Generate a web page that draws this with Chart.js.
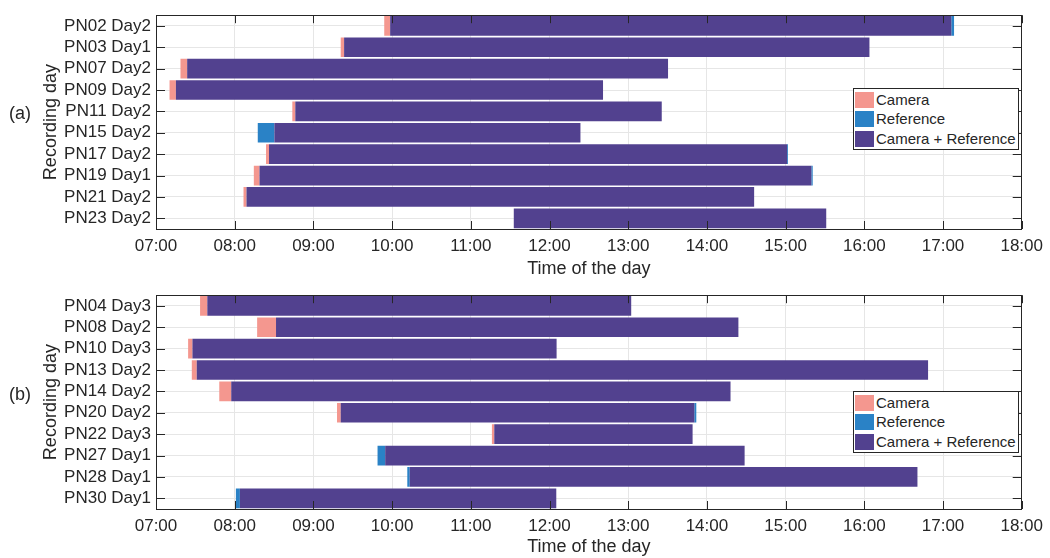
<!DOCTYPE html>
<html>
<head>
<meta charset="utf-8">
<script src="https://cdn.jsdelivr.net/npm/chart.js@4"></script>
<style>
  body { margin: 0; background: #fff; width: 1050px; height: 558px; position: relative; overflow: hidden;
         font-family: "Liberation Sans", Arial, sans-serif; color: #262626; }
  .panel { position: absolute; left: 0; width: 1050px; }
  .tag { position: absolute; left: 9px; font-size: 18px; }
  .legend { position: absolute; left: 853px; width: 164px; height: 60px; border: 1px solid #262626; background: #fff; font-size: 15px; }
  .legend div { position: absolute; left: 1px; height: 16px; line-height: 16px; white-space: nowrap; }
  .legend span { display: inline-block; width: 19px; height: 16px; vertical-align: top; margin-right: 2px; }
</style>
</head>
<body>
<div class="panel" style="top:0;height:280px"><canvas id="chartA"></canvas></div>
<div class="panel" style="top:280px;height:278px"><canvas id="chartB"></canvas></div>
<div class="tag" style="top:103px">(a)</div>
<div class="tag" style="top:384px">(b)</div>
<div class="legend" style="top:88px">
  <div style="top:3px"><span style="background:#F4978F"></span>Camera</div>
  <div style="top:22px"><span style="background:#2A82C6"></span>Reference</div>
  <div style="top:42px"><span style="background:#52418F"></span>Camera + Reference</div>
</div>
<div class="legend" style="top:391px">
  <div style="top:3px"><span style="background:#F4978F"></span>Camera</div>
  <div style="top:22px"><span style="background:#2A82C6"></span>Reference</div>
  <div style="top:42px"><span style="background:#52418F"></span>Camera + Reference</div>
</div>
<script>
// times are hours of the day (decimal)
const rowsA = ['PN02 Day2', 'PN03 Day1', 'PN07 Day2', 'PN09 Day2', 'PN11 Day2', 'PN15 Day2', 'PN17 Day2', 'PN19 Day1', 'PN21 Day2', 'PN23 Day2'];
const cameraA = [[9.90, 9.975], [9.347, 9.39], [7.311, 7.396], [7.172, 7.253], [8.732, 8.77], null, [8.398, 8.436], [8.243, 8.315], [8.112, 8.15], null];
const refStartA = [null, null, null, null, null, [8.293, 8.504], null, null, null, null];
const bothA = [[9.975, 17.105], [9.39, 16.065], [7.396, 13.506], [7.253, 12.68], [8.77, 13.426], [8.504, 12.393], [8.436, 15.019], [8.315, 15.327], [8.15, 14.60], [11.546, 15.516]];
const refEndA = [[17.105, 17.14], null, null, null, null, null, [15.019, 15.03], [15.327, 15.344], null, null];

const rowsB = ['PN04 Day3', 'PN08 Day2', 'PN10 Day3', 'PN13 Day2', 'PN14 Day2', 'PN20 Day2', 'PN22 Day3', 'PN27 Day1', 'PN28 Day1', 'PN30 Day1'];
const cameraB = [[7.56, 7.652], [8.285, 8.525], [7.408, 7.463], [7.455, 7.518], [7.804, 7.956], [9.30, 9.347], [11.268, 11.298], null, null, null];
const refStartB = [null, null, null, null, null, null, null, [9.815, 9.912], [10.193, 10.224], [8.015, 8.066]];
const bothB = [[7.652, 13.038], [8.525, 14.40], [7.463, 12.09], [7.518, 16.81], [7.956, 14.30], [9.347, 13.84], [11.298, 13.818], [9.912, 14.479], [10.224, 16.675], [8.066, 12.086]];
const refEndB = [null, null, null, null, null, [13.84, 13.865], null, null, null, null];

const hourTicks = [7, 8, 9, 10, 11, 12, 13, 14, 15, 16, 17, 18];

const camColor = '#F4978F';
const refColor = '#2A82C6';
const bothColor = '#52418F';
const textColor = '#262626';

// MATLAB style: ticks pointing inwards on all four sides, plus a box
const insideTicks = {
  id: 'insideTicks',
  afterDatasetsDraw(chart) {
    const ctx = chart.ctx;
    const a = chart.chartArea;
    const x = chart.scales.x, y = chart.scales.y;
    ctx.save();
    ctx.strokeStyle = textColor;
    ctx.lineWidth = 1;
    ctx.beginPath();
    x.ticks.forEach(t => {
      const px = Math.round(x.getPixelForValue(t.value)) + 0.5;
      ctx.moveTo(px, a.bottom); ctx.lineTo(px, a.bottom - 8);
      ctx.moveTo(px, a.top); ctx.lineTo(px, a.top + 8);
    });
    y.ticks.forEach((t, i) => {
      const py = Math.round(y.getPixelForTick(i)) + 0.5;
      ctx.moveTo(a.left, py); ctx.lineTo(a.left + 9, py);
      ctx.moveTo(a.right, py); ctx.lineTo(a.right - 9, py);
    });
    ctx.stroke();
    ctx.strokeRect(Math.round(a.left) + 0.5, Math.round(a.top) + 0.5, Math.round(a.width) - 1, Math.round(a.height));
    ctx.restore();
  }
};

function fmtHour(v) {
  return (v < 10 ? '0' : '') + v + ':00';
}

function makeChart(id, rows, cam, refStart, both, refEnd, axisH) {
  const bar = (label, data, color) => ({
    label: label,
    data: data,
    backgroundColor: color,
    borderWidth: 0,
    grouped: false,
    barPercentage: 0.92,
    categoryPercentage: 1
  });
  return new Chart(document.getElementById(id), {
    type: 'bar',
    data: {
      labels: rows,
      datasets: [
        bar('Camera + Reference', both, bothColor),
        bar('Camera', cam, camColor),
        bar('Reference', refStart, refColor),
        bar('Reference', refEnd, refColor)
      ]
    },
    options: {
      indexAxis: 'y',
      responsive: true,
      maintainAspectRatio: false,
      animation: false,
      layout: { padding: { top: 9, right: 24, left: 0, bottom: 0 } },
      plugins: { legend: { display: false }, tooltip: { enabled: false } },
      scales: {
        x: {
          type: 'linear',
          min: 7,
          max: 18,
          afterBuildTicks: s => { s.ticks = hourTicks.map(v => ({ value: v })); },
          afterFit: s => { s.height = axisH; },
          grid: { color: '#E6E6E6', drawTicks: false },
          border: { display: false },
          ticks: { callback: fmtHour, color: textColor, padding: 7, maxRotation: 0,
                   font: { family: 'Liberation Sans', size: 17 } },
          title: { display: true, text: 'Time of the day', color: textColor, padding: 0,
                   font: { family: 'Liberation Sans', size: 18 } }
        },
        y: {
          afterFit: s => { s.width = 156; },
          grid: { color: '#E6E6E6', drawTicks: false, offset: false },
          border: { display: false },
          ticks: { color: textColor, padding: 5, autoSkip: false,
                   font: { family: 'Liberation Sans', size: 17 } },
          title: { display: true, text: 'Recording day', color: textColor, padding: { top: 40 },
                   font: { family: 'Liberation Sans', size: 18 } }
        }
      }
    },
    plugins: [insideTicks]
  });
}

makeChart('chartA', rowsA, cameraA, refStartA, bothA, refEndA, 51);
makeChart('chartB', rowsB, cameraB, refStartB, bothB, refEndB, 49);
</script>
</body>
</html>
